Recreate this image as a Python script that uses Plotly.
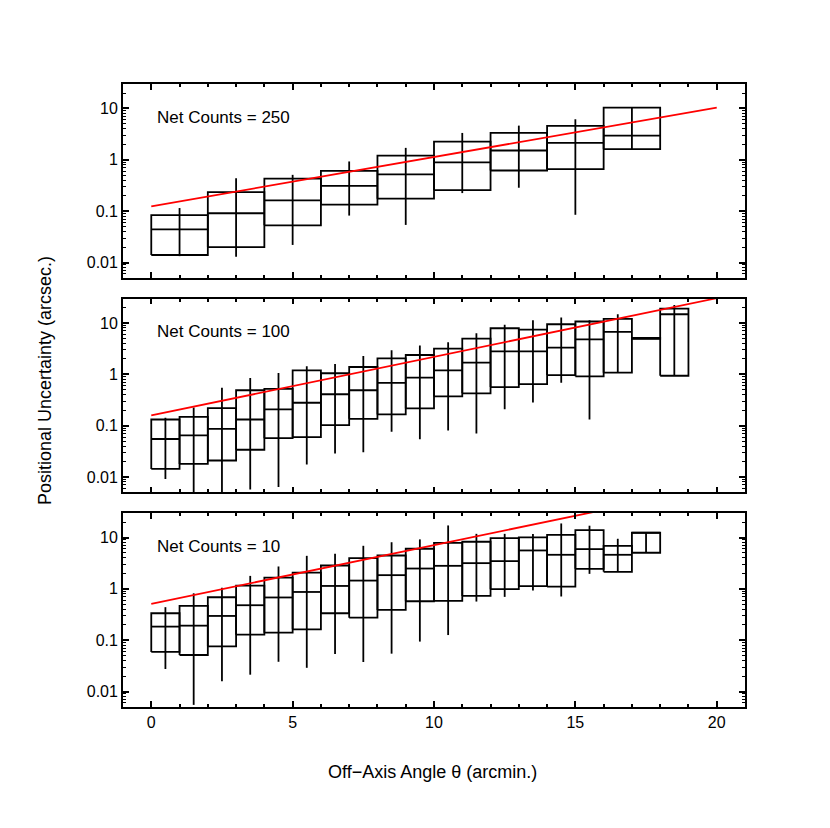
import plotly.graph_objects as go
from plotly.subplots import make_subplots

# bin centres (arcmin) and widths for each net-count panel
centers_250 = [1, 3, 5, 7, 9, 11, 13, 15, 17]
centers_100 = [i + 0.5 for i in range(19)]
centers_10 = [i + 0.5 for i in range(18)]
widths = {"250": 2.0, "100": 1.0, "10": 1.0}

# Net Counts = 250
hi_250 = [0.084, 0.235, 0.43, 0.61, 1.21, 2.27, 3.34, 4.57, 10.4]
med_250 = [0.044, 0.091, 0.162, 0.31, 0.52, 0.89, 1.52, 2.14, 2.97]
lo_250 = [0.014, 0.020, 0.053, 0.134, 0.175, 0.258, 0.62, 0.66, 1.61]
wtop_250 = [0.115, 0.44, 0.51, 0.93, 1.71, 3.34, 4.64, 6.17, 10.4]
wbot_250 = [0.0133, 0.0129, 0.022, 0.082, 0.054, 0.225, 0.286, 0.085, 1.61]

# Net Counts = 100
hi_100 = [0.132, 0.149, 0.22, 0.49, 0.52, 1.2, 1.05, 1.39, 2.05, 2.38,
          3.17, 4.97, 7.9, 7.45, 9.46, 10.7, 12.0, 5.1, 19.1]
med_100 = [0.055, 0.065, 0.087, 0.132, 0.207, 0.28, 0.41, 0.49, 0.68, 0.86,
           1.2, 1.69, 2.81, 2.81, 3.31, 4.82, 6.7, 5.0, 14.8]
lo_100 = [0.0144, 0.018, 0.021, 0.034, 0.057, 0.060, 0.103, 0.136, 0.166, 0.217,
          0.372, 0.426, 0.566, 0.647, 0.97, 0.914, 1.08, 4.9, 0.94]
wtop_100 = [0.143, 0.227, 0.55, 0.85, 1.06, 1.43, 1.59, 2.28, 2.94, 3.63,
            4.2, 6.3, 9.3, 11.3, 12.8, 11.3, 14.8, 5.0, 22.5]
wbot_100 = [0.0092, 0.004, 0.004, 0.0057, 0.0064, 0.0175, 0.0288, 0.0305, 0.076, 0.0547,
            0.081, 0.0705, 0.21, 0.284, 0.687, 0.132, 1.08, 5.0, 0.94]

# Net Counts = 10
hi_10 = [0.335, 0.466, 0.687, 1.16, 1.66, 2.08, 2.85, 3.97, 4.47, 6.04,
         7.9, 8.27, 9.75, 10.05, 11.3, 14.0, 6.9, 12.4]
med_10 = [0.184, 0.192, 0.297, 0.48, 0.68, 0.87, 1.14, 1.45, 1.85, 2.49,
          2.81, 3.17, 3.47, 5.6, 4.61, 5.95, 4.61, 12.4]
lo_10 = [0.059, 0.0515, 0.076, 0.128, 0.14, 0.163, 0.335, 0.275, 0.389, 0.574,
         0.583, 0.73, 0.985, 1.13, 1.11, 2.46, 2.15, 5.05]
wtop_10 = [0.44, 0.82, 1.05, 1.79, 2.73, 4.4, 4.82, 6.9, 8.1, 9.2,
           17.2, 11.8, 11.8, 11.7, 18.8, 17.0, 9.46, 12.4]
wbot_10 = [0.0275, 0.0055, 0.0158, 0.0213, 0.038, 0.029, 0.054, 0.0376, 0.0547, 0.094,
           0.126, 0.566, 0.698, 0.93, 0.71, 1.96, 2.15, 5.05]

# red fitted relations
fit_x = [0, 20]
fit_250 = [0.124, 10.4]
fit_100 = [0.158, 30.4]
fit_10 = [0.51, 99.0]

FONT = "Liberation Sans, Arial, Helvetica, sans-serif"


def box_outline(centers, width, hi, med, lo, wtop, wbot):
    xs, ys = [], []
    for c, h, m, l, wt, wb in zip(centers, hi, med, lo, wtop, wbot):
        x0, x1 = c - width / 2, c + width / 2
        xs += [x0, x1, x1, x0, x0, None]
        ys += [l, l, h, h, l, None]
        xs += [x0, x1, None]
        ys += [m, m, None]
        xs += [c, c, None]
        ys += [wb, wt, None]
    return xs, ys


panels = [
    ("250", centers_250, hi_250, med_250, lo_250, wtop_250, wbot_250, fit_250),
    ("100", centers_100, hi_100, med_100, lo_100, wtop_100, wbot_100, fit_100),
    ("10", centers_10, hi_10, med_10, lo_10, wtop_10, wbot_10, fit_10),
]

fig = make_subplots(rows=3, cols=1, shared_xaxes=True, vertical_spacing=0.033)

for row, (label, cen, hi, med, lo, wt, wb, fit) in enumerate(panels, start=1):
    xs, ys = box_outline(cen, widths[label], hi, med, lo, wt, wb)
    fig.add_trace(
        go.Scatter(x=xs, y=ys, mode="lines", line=dict(color="black", width=1.8),
                   showlegend=False, hoverinfo="skip"),
        row=row, col=1,
    )
    fig.add_trace(
        go.Scatter(x=fit_x, y=fit, mode="lines", line=dict(color="#ff0000", width=1.8),
                   showlegend=False),
        row=row, col=1,
    )
    fig.add_annotation(
        text=f"Net Counts = {label}", xref=f"x{'' if row == 1 else row} domain",
        yref=f"y{'' if row == 1 else row} domain", x=0.051, y=0.828,
        xanchor="left", yanchor="middle", showarrow=False,
        font=dict(size=17, color="black", family=FONT),
    )

fig.update_xaxes(
    range=[-1, 21], tickmode="linear", tick0=0, dtick=5,
    ticks="inside", ticklen=6, tickwidth=1.5, tickcolor="black",
    minor=dict(dtick=1, tick0=0, ticks="inside", ticklen=3.5, tickwidth=1.5, tickcolor="black"),
    showline=True, linecolor="black", linewidth=1.8, mirror="ticks",
    showgrid=False, zeroline=False,
    tickfont=dict(size=16, color="black", family=FONT),
)
fig.update_yaxes(
    type="log", range=[-2.301, 1.477],
    tickvals=[0.01, 0.1, 1, 10], ticktext=["0.01", "0.1", "1", "10"],
    ticks="inside", ticklen=6, tickwidth=1.5, tickcolor="black",
    minor=dict(dtick="D1", ticks="inside", ticklen=3, tickwidth=1.2, tickcolor="black"),
    showline=True, linecolor="black", linewidth=1.8, mirror="ticks",
    showgrid=False, zeroline=False,
    tickfont=dict(size=16, color="black", family=FONT),
)

fig.add_annotation(
    text="Positional Uncertainty (arcsec.)", xref="paper", yref="paper",
    x=-0.125, y=0.5235, textangle=-90, showarrow=False,
    xanchor="center", yanchor="middle",
    font=dict(size=18, color="black", family=FONT),
)
fig.add_annotation(
    text="Off\u2212Axis Angle \u03b8 (arcmin.)", xref="paper", yref="paper",
    x=0.498, y=-0.104, showarrow=False, xanchor="center", yanchor="middle",
    font=dict(size=18, color="black", family=FONT),
)

# page body adds an 8px offset, so the figure is a bit smaller than the window
fig.update_layout(
    width=822, height=820,
    margin=dict(l=115, r=85, t=76, b=121),
    plot_bgcolor="white", paper_bgcolor="white",
    font=dict(family=FONT, color="black"),
)

fig.write_html("out.html")
